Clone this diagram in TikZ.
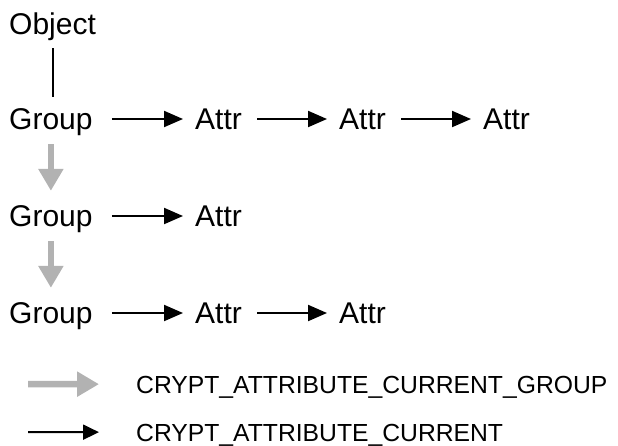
\documentclass[tikz,border=0pt]{standalone}
\usepackage{fontspec}
\setmainfont{Liberation Sans}
\usetikzlibrary{arrows.meta}

\begin{document}
\begin{tikzpicture}[x=1pt, y=-1pt,
    txt/.style={inner sep=0pt, anchor=base west, font=\fontsize{30}{36}\selectfont, text height=20pt, text depth=0pt},
    key/.style={inner sep=0pt, anchor=base west, font=\fontsize{24.7}{30}\selectfont, text height=17.7pt, text depth=0pt},
    cur/.style={line width=2pt, -{Triangle[length=19pt, width=16pt]}, shorten <=15pt, shorten >=12pt},
    grp/.style={black!30, line width=5.5pt, -{Triangle[length=22pt, width=24pt]}, shorten <=15pt, shorten >=15pt}]
    \useasboundingbox (0,0) rectangle (618,445);

    \node[txt] (obj) at (9,34) {Object};
    \node[txt] (g1) at (9,129) {Group};
    \node[txt] (a11) at (195,129) {Attr};
    \node[txt] (a12) at (339,129) {Attr};
    \node[txt] (a13) at (483,129) {Attr};
    \node[txt] (g2) at (9,226) {Group};
    \node[txt] (a21) at (195,226) {Attr};
    \node[txt] (g3) at (9,323) {Group};
    \node[txt] (a31) at (195,323) {Attr};
    \node[txt] (a32) at (339,323) {Attr};

    \draw[line width=2pt, shorten <=14pt, shorten >=12pt] (obj.south) -- (obj.south |- g1.north);

    \draw[grp] (g1.south) -- (g1.south |- g2.north);
    \draw[grp] (g2.south) -- (g2.south |- g3.north);

    \draw[cur, shorten <=19pt] (g1.east) -- (a11.west);
    \draw[cur] (a11.east) -- (a12.west);
    \draw[cur] (a12.east) -- (a13.west);
    \draw[cur, shorten <=19pt] (g2.east) -- (a21.west);
    \draw[cur, shorten <=19pt] (g3.east) -- (a31.west);
    \draw[cur] (a31.east) -- (a32.west);

    % legend
    \node[key] (l1) at (136,393) {CRYPT\_ATTRIBUTE\_CURRENT\_GROUP};
    \node[key] (l2) at (136,441) {CRYPT\_ATTRIBUTE\_CURRENT};
    \coordinate (k1) at (28,384.15);
    \coordinate (k2) at (28,432.15);
    \draw[grp, line width=6.5pt, shorten <=0pt, shorten >=37pt] (k1) -- (l1.west);
    \draw[line width=2pt, -{Triangle[length=16pt, width=15pt]}, shorten >=37pt] (k2) -- (l2.west);
\end{tikzpicture}
\end{document}
